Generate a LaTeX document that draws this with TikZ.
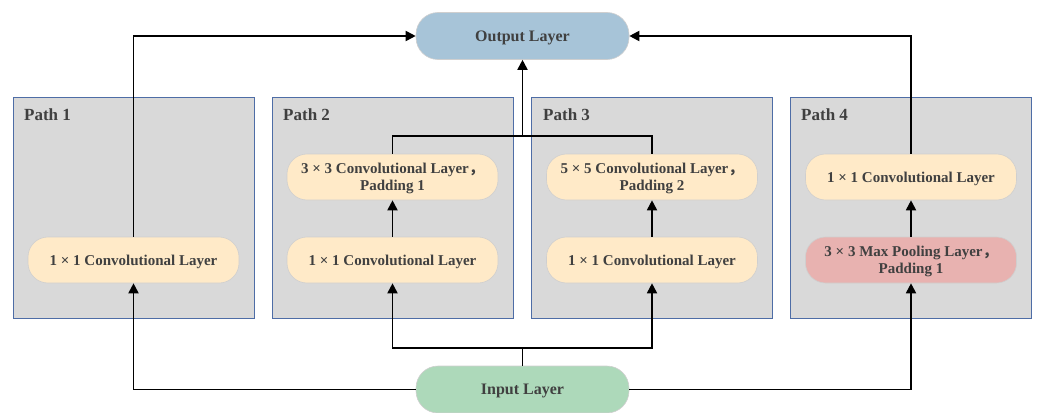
\documentclass[tikz,border=0pt]{standalone}
\usepackage{fontspec}
\setmainfont{Liberation Serif}
\newfontfamily\cjk{Noto Sans CJK SC}
\usetikzlibrary{arrows.meta}
\definecolor{txt}{HTML}{404040}
\definecolor{pathfill}{HTML}{D9D9D9}
\definecolor{pathedge}{HTML}{4E6DA6}
\definecolor{outfill}{HTML}{A7C4D8}
\definecolor{infill}{HTML}{ADD9BA}
\definecolor{convfill}{HTML}{FFEAC8}
\definecolor{poolfill}{HTML}{E8B2B0}
\definecolor{nodeedge}{HTML}{CFCFCF}
\newcommand{\fwc}{{\cjk ，}}
\tikzset{
  pathbox/.style={draw=pathedge, line width=0.9pt, fill=pathfill,
    minimum width=241pt, minimum height=221pt, inner sep=0pt},
  pathtitle/.style={anchor=base west, inner sep=0pt, text=txt,
    font=\bfseries\fontsize{17}{19}\selectfont},
  layer/.style={draw=nodeedge, line width=0.6pt, rounded corners=20pt,
    minimum width=211pt, minimum height=46pt, inner sep=0pt, align=center,
    text depth=0pt, text=txt, font=\bfseries\fontsize{15}{17}\selectfont},
  conv/.style={layer, fill=convfill},
  pool/.style={layer, fill=poolfill},
  io/.style={layer, minimum width=213pt, minimum height=47pt, rounded corners=22pt,
    font=\bfseries\fontsize{16}{18}\selectfont},
  link/.style={line width=1.8pt, line join=miter},
  arr/.style={link, -{Triangle[length=10pt,width=10pt]}}
}
\begin{document}
\begin{tikzpicture}[x=1pt, y=-1pt]
  \useasboundingbox (0,0) rectangle (1038,412);

  % the four branch panels
  \node[pathbox] (p1) at (133.5,207.5) {};
  \node[pathbox] (p2) at (392.5,207.5) {};
  \node[pathbox] (p3) at (652,207.5) {};
  \node[pathbox] (p4) at (910.5,207.5) {};
  \node[pathtitle] (t1) at (24,120) {Path 1};
  \node[pathtitle] (t2) at (283,120) {Path 2};
  \node[pathtitle] (t3) at (543,120) {Path 3};
  \node[pathtitle] (t4) at (801,120) {Path 4};

  % input and output
  \node[io, fill=outfill] (out) at (522.5,36) {Output Layer};
  \node[io, fill=infill] (in) at (522.5,389.5) {Input Layer};

  % branch layers
  \node[conv] (c1) at (133.5,260) {1 × 1 Convolutional Layer};
  \node[conv] (c2a) at (392.5,260) {1 × 1 Convolutional Layer};
  \node[conv] (c2b) at (392.5,177) {3 × 3 Convolutional Layer\fwc\\Padding 1};
  \node[conv] (c3a) at (652,260) {1 × 1 Convolutional Layer};
  \node[conv] (c3b) at (652,177) {5 × 5 Convolutional Layer\fwc\\Padding 2};
  \node[pool] (c4a) at (911,260) {3 × 3 Max Pooling Layer\fwc\\Padding 1};
  \node[conv] (c4b) at (911,177) {1 × 1 Convolutional Layer};

  % junction points
  \coordinate (jt) at (522.5,136);
  \coordinate (jb) at (522.5,348);

  % input fan-out
  \draw[arr] (in.west) -| (c1.south);
  \draw[arr] (in.east) -| (c4a.south);
  \draw[link] (in.north) -- (jb);
  \draw[arr] (jb) -| (c2a.south);
  \draw[arr] (jb) -| (c3a.south);

  % inside the branches
  \draw[arr] (c2a) -- (c2b);
  \draw[arr] (c3a) -- (c3b);
  \draw[arr] (c4a) -- (c4b);

  % merging into the output
  \draw[arr] (c1.north) |- (out.west);
  \draw[arr] (c4b.north) |- (out.east);
  \draw[link] (c2b.north) |- (jt) -| (c3b.north);
  \draw[arr] (jt) -- (out.south);
\end{tikzpicture}
\end{document}
